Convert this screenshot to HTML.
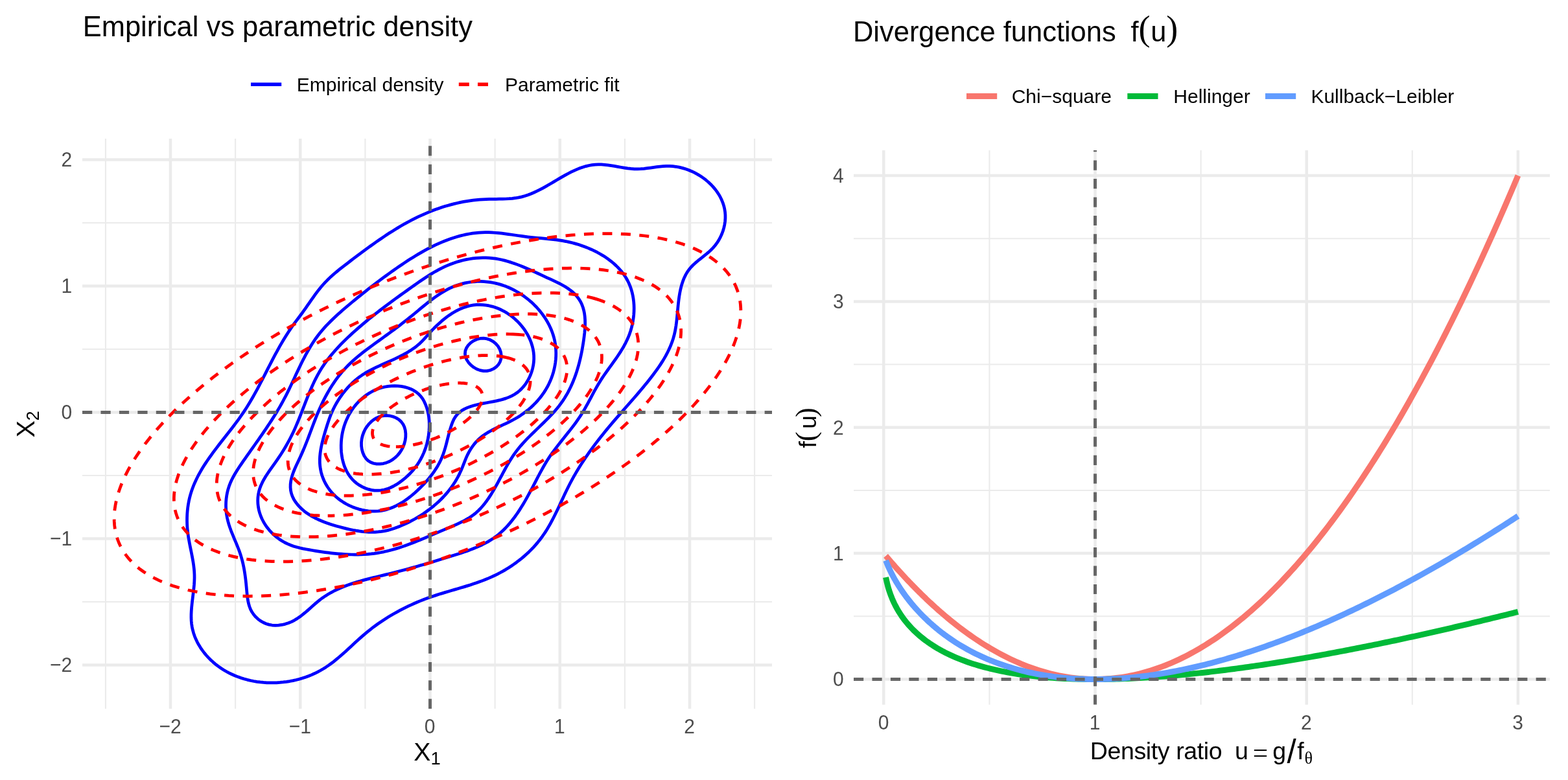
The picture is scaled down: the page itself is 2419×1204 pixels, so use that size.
<!DOCTYPE html>
<html lang="en">
<head>
<meta charset="utf-8">
<title>Empirical vs parametric density / Divergence functions</title>
<style>html,body{margin:0;padding:0;background:#fff}body{width:2419px;height:1204px;overflow:hidden}svg{display:block}</style>
</head>
<body>
<svg width="2419" height="1204" viewBox="0 0 2419 1204" role="img" aria-label="Empirical vs parametric density; Divergence functions f(u)">
<rect width="2419" height="1204" fill="#fff"/>
<defs><clipPath id="cl"><rect x="127" y="214" width="1064" height="880"/></clipPath><clipPath id="cr"><rect x="1317" y="232" width="1074" height="855.8"/></clipPath></defs>
<path d="M127 929H1191M127 734H1191M127 539H1191M127 344H1191M162.88 214V1094M363.12 214V1094M563.38 214V1094M763.62 214V1094M963.88 214V1094M1164.12 214V1094" stroke="#EBEBEB" stroke-width="2.1" fill="none"/>
<path d="M127 1026.5H1191M127 831.5H1191M127 636.5H1191M127 441.5H1191M127 246.5H1191M263 214V1094M463.25 214V1094M663.5 214V1094M863.75 214V1094M1064 214V1094" stroke="#EBEBEB" stroke-width="4.5" fill="none"/>
<g clip-path="url(#cl)" fill="none">
<path d="M465.72 483.77L468.65 479.71L471.55 475.6L474.43 471.46L477.31 467.3L480.19 463.14L483.1 459.01L486.05 454.91L489.05 450.86L492.12 446.89L495.28 443.01L498.53 439.24L501.89 435.59L505.36 432.05L508.93 428.62L512.58 425.29L516.3 422.03L520.09 418.84L523.94 415.71L527.84 412.63L531.77 409.57L535.73 406.54L539.71 403.51L543.7 400.48L547.7 397.46L551.71 394.44L555.73 391.42L559.77 388.42L563.82 385.43L567.88 382.45L571.96 379.5L576.06 376.56L580.17 373.65L584.31 370.77L588.46 367.92L592.63 365.1L596.83 362.32L601.04 359.58L605.28 356.88L609.54 354.23L613.83 351.62L618.14 349.06L622.48 346.56L626.84 344.12L631.24 341.73L635.66 339.41L640.11 337.15L644.59 334.96L649.1 332.84L653.64 330.79L658.2 328.81L662.8 326.91L667.42 325.08L672.07 323.34L676.75 321.67L681.45 320.08L686.18 318.58L690.94 317.17L695.72 315.84L700.52 314.6L705.35 313.45L710.21 312.4L715.09 311.44L719.99 310.57L724.92 309.81L729.87 309.14L734.84 308.58L739.83 308.12L744.85 307.76L749.89 307.52L754.95 307.37L760.02 307.3L765.09 307.27L770.16 307.23L775.22 307.15L780.26 307L785.27 306.74L790.24 306.33L795.17 305.73L800.04 304.92L804.85 303.85L809.59 302.52L814.28 300.97L818.92 299.21L823.52 297.26L828.07 295.15L832.58 292.9L837.06 290.53L841.52 288.07L845.95 285.54L850.37 282.96L854.77 280.36L859.17 277.75L863.57 275.16L867.97 272.62L872.38 270.14L876.8 267.76L881.25 265.48L885.71 263.34L890.21 261.36L894.74 259.56L899.3 257.96L903.91 256.59L908.58 255.47L913.29 254.62L918.06 254.06L922.9 253.83L927.81 253.91L932.77 254.27L937.78 254.85L942.83 255.59L947.91 256.44L953.01 257.35L958.13 258.26L963.24 259.11L968.36 259.86L973.45 260.43L978.53 260.79L983.57 260.88L988.57 260.69L993.55 260.28L998.5 259.72L1003.43 259.06L1008.35 258.36L1013.27 257.68L1018.18 257.08L1023.09 256.63L1028.02 256.37L1032.96 256.37L1037.91 256.68L1042.87 257.28L1047.81 258.18L1052.72 259.35L1057.58 260.8L1062.38 262.51L1067.09 264.47L1071.71 266.68L1076.21 269.12L1080.57 271.78L1084.79 274.65L1088.85 277.73L1092.72 281L1096.39 284.46L1099.85 288.09L1103.08 291.89L1106.05 295.84L1108.77 299.94L1111.2 304.18L1113.33 308.54L1115.15 313.02L1116.63 317.61L1117.77 322.3L1118.55 327.07L1118.94 331.93L1118.95 336.84L1118.58 341.78L1117.85 346.72L1116.77 351.63L1115.34 356.48L1113.57 361.24L1111.47 365.88L1109.06 370.36L1106.34 374.67L1103.31 378.77L1100 382.63L1096.42 386.25L1092.64 389.68L1088.73 392.96L1084.74 396.15L1080.74 399.3L1076.8 402.46L1072.97 405.68L1069.34 409.01L1065.95 412.51L1062.88 416.23L1060.14 420.18L1057.73 424.35L1055.62 428.71L1053.78 433.24L1052.19 437.91L1050.82 442.71L1049.66 447.61L1048.67 452.59L1047.84 457.62L1047.14 462.68L1046.54 467.75L1046.02 472.84L1045.55 477.93L1045.09 483.02L1044.62 488.09L1044.11 493.13L1043.53 498.15L1042.85 503.12L1042.05 508.05L1041.09 512.92L1039.95 517.73L1038.6 522.47L1037.06 527.14L1035.34 531.75L1033.45 536.29L1031.39 540.78L1029.19 545.2L1026.84 549.57L1024.37 553.88L1021.77 558.14L1019.07 562.35L1016.27 566.52L1013.39 570.64L1010.43 574.72L1007.41 578.76L1004.33 582.76L1001.22 586.73L998.07 590.66L994.89 594.56L991.69 598.44L988.46 602.29L985.22 606.12L981.96 609.93L978.68 613.72L975.4 617.5L972.1 621.27L968.81 625.04L965.51 628.8L962.21 632.56L958.92 636.31L955.63 640.08L952.35 643.85L949.09 647.63L945.84 651.42L942.61 655.22L939.4 659.05L936.21 662.89L933.05 666.75L929.91 670.64L926.8 674.54L923.72 678.47L920.68 682.42L917.66 686.4L914.69 690.4L911.74 694.43L908.84 698.49L905.98 702.58L903.16 706.69L900.38 710.84L897.65 715.02L894.96 719.23L892.33 723.48L889.74 727.76L887.21 732.08L884.74 736.43L882.31 740.82L879.95 745.26L877.65 749.73L875.4 754.24L873.19 758.77L871.01 763.33L868.86 767.9L866.72 772.48L864.59 777.06L862.45 781.64L860.29 786.2L858.1 790.74L855.88 795.25L853.61 799.73L851.29 804.17L848.9 808.55L846.43 812.89L843.88 817.16L841.23 821.36L838.47 825.48L835.6 829.53L832.6 833.48L829.49 837.35L826.27 841.12L822.94 844.81L819.51 848.4L815.98 851.9L812.35 855.31L808.62 858.62L804.81 861.84L800.91 864.96L796.93 867.98L792.88 870.91L788.75 873.73L784.55 876.45L780.29 879.08L775.96 881.6L771.58 884.01L767.14 886.32L762.65 888.53L758.11 890.63L753.54 892.63L748.92 894.53L744.27 896.34L739.58 898.07L734.87 899.74L730.12 901.34L725.36 902.89L720.58 904.39L715.78 905.86L710.97 907.3L706.15 908.73L701.33 910.14L696.5 911.55L691.67 912.97L686.85 914.4L682.04 915.86L677.23 917.35L672.45 918.88L667.67 920.46L662.93 922.1L658.2 923.8L653.5 925.57L648.83 927.41L644.19 929.32L639.58 931.29L634.99 933.33L630.44 935.44L625.93 937.61L621.45 939.85L617.01 942.16L612.6 944.54L608.24 946.98L603.91 949.49L599.63 952.07L595.39 954.72L591.19 957.43L587.04 960.21L582.94 963.06L578.89 965.98L574.88 968.97L570.93 972.02L567.03 975.14L563.18 978.33L559.38 981.59L555.63 984.9L551.91 988.25L548.22 991.62L544.55 995.02L540.88 998.41L537.21 1001.8L533.53 1005.17L529.83 1008.5L526.11 1011.79L522.34 1015.03L518.53 1018.19L514.67 1021.27L510.74 1024.26L506.74 1027.14L502.66 1029.9L498.48 1032.53L494.21 1035.02L489.83 1037.36L485.36 1039.54L480.81 1041.58L476.17 1043.47L471.46 1045.2L466.68 1046.78L461.84 1048.2L456.95 1049.47L452.01 1050.58L447.03 1051.54L442.02 1052.34L436.97 1052.98L431.91 1053.46L426.84 1053.78L421.75 1053.94L416.67 1053.94L411.59 1053.77L406.52 1053.45L401.47 1052.95L396.45 1052.3L391.47 1051.48L386.52 1050.49L381.61 1049.33L376.76 1048.01L371.97 1046.51L367.25 1044.85L362.59 1043.02L358.02 1041.01L353.53 1038.83L349.14 1036.48L344.84 1033.96L340.65 1031.26L336.58 1028.39L332.62 1025.34L328.79 1022.11L325.1 1018.72L321.57 1015.18L318.2 1011.48L315.01 1007.64L312.01 1003.67L309.21 999.57L306.63 995.35L304.28 991.02L302.16 986.58L300.29 982.04L298.69 977.41L297.37 972.7L296.33 967.92L295.59 963.06L295.15 958.15L294.96 953.18L295 948.17L295.22 943.12L295.6 938.03L296.09 932.93L296.66 927.8L297.28 922.67L297.91 917.53L298.52 912.39L299.07 907.27L299.52 902.17L299.84 897.09L300 892.05L299.95 887.04L299.7 882.08L299.26 877.16L298.67 872.26L297.94 867.39L297.11 862.53L296.2 857.69L295.24 852.85L294.25 848.01L293.27 843.17L292.32 838.31L291.41 833.43L290.6 828.53L289.88 823.59L289.31 818.62L288.89 813.61L288.62 808.57L288.51 803.52L288.57 798.46L288.79 793.41L289.17 788.37L289.73 783.37L290.46 778.4L291.36 773.49L292.44 768.63L293.7 763.85L295.13 759.14L296.73 754.5L298.48 749.91L300.37 745.39L302.41 740.93L304.57 736.52L306.86 732.16L309.27 727.84L311.77 723.57L314.38 719.34L317.08 715.15L319.86 710.99L322.71 706.86L325.63 702.76L328.6 698.68L331.63 694.62L334.69 690.58L337.79 686.55L340.91 682.53L344.05 678.52L347.2 674.52L350.34 670.51L353.48 666.5L356.61 662.49L359.71 658.46L362.77 654.42L365.8 650.37L368.77 646.3L371.69 642.2L374.55 638.08L377.33 633.93L380.04 629.75L382.67 625.54L385.25 621.3L387.77 617.04L390.24 612.75L392.66 608.44L395.04 604.11L397.39 599.77L399.71 595.4L402 591.02L404.28 586.62L406.55 582.22L408.8 577.8L411.06 573.37L413.33 568.93L415.6 564.49L417.89 560.05L420.2 555.6L422.54 551.15L424.91 546.7L427.31 542.27L429.75 537.85L432.22 533.45L434.74 529.08L437.3 524.74L439.91 520.44L442.57 516.18L445.29 511.97L448.06 507.81L450.9 503.7L453.8 499.66L456.76 495.68L459.75 491.72L462.74 487.76Z" stroke="#0000FF" stroke-width="4.75" stroke-linejoin="round"/>
<path d="M490.27 518.23L493.34 514.3L496.52 510.45L499.81 506.67L503.19 502.95L506.66 499.31L510.21 495.72L513.83 492.19L517.51 488.71L521.24 485.28L525.02 481.9L528.84 478.56L532.68 475.25L536.54 471.98L540.42 468.74L544.29 465.53L548.17 462.34L552.05 459.17L555.93 456.03L559.82 452.9L563.71 449.81L567.62 446.73L571.53 443.67L575.46 440.64L579.39 437.62L583.35 434.62L587.32 431.65L591.31 428.68L595.33 425.74L599.36 422.82L603.42 419.91L607.51 417.01L611.62 414.14L615.77 411.28L619.94 408.44L624.14 405.62L628.37 402.84L632.63 400.1L636.92 397.4L641.24 394.75L645.59 392.15L649.96 389.6L654.37 387.12L658.8 384.71L663.27 382.37L667.77 380.11L672.29 377.94L676.84 375.85L681.43 373.86L686.04 371.96L690.68 370.17L695.36 368.49L700.06 366.93L704.79 365.48L709.55 364.16L714.35 362.97L719.17 361.91L724.02 360.99L728.9 360.22L733.81 359.6L738.76 359.14L743.73 358.84L748.73 358.7L753.76 358.73L758.82 358.92L763.9 359.25L768.99 359.69L774.09 360.23L779.2 360.85L784.3 361.53L789.4 362.25L794.48 362.99L799.55 363.73L804.59 364.45L809.61 365.14L814.59 365.77L819.53 366.33L824.44 366.83L829.32 367.29L834.18 367.72L839.01 368.15L843.84 368.59L848.67 369.07L853.49 369.59L858.32 370.18L863.16 370.86L868.02 371.65L872.9 372.55L877.81 373.6L882.74 374.79L887.68 376.12L892.61 377.6L897.52 379.22L902.4 380.99L907.23 382.89L912.01 384.95L916.71 387.14L921.34 389.48L925.86 391.96L930.28 394.59L934.58 397.36L938.75 400.27L942.77 403.33L946.63 406.53L950.31 409.88L953.82 413.37L957.12 417L960.22 420.78L963.09 424.7L965.73 428.77L968.12 432.98L970.25 437.33L972.12 441.82L973.73 446.43L975.08 451.14L976.19 455.95L977.04 460.83L977.66 465.78L978.03 470.77L978.17 475.8L978.07 480.85L977.75 485.9L977.2 490.95L976.43 495.97L975.44 500.96L974.24 505.89L972.83 510.76L971.21 515.55L969.39 520.24L967.37 524.83L965.17 529.33L962.82 533.74L960.33 538.08L957.71 542.35L954.99 546.57L952.18 550.74L949.31 554.87L946.39 558.98L943.45 563.08L940.49 567.17L937.54 571.26L934.62 575.37L931.74 579.5L928.93 583.67L926.2 587.88L923.57 592.15L921.04 596.46L918.58 600.81L916.18 605.2L913.81 609.6L911.46 614.01L909.11 618.42L906.74 622.82L904.33 627.2L901.86 631.55L899.31 635.86L896.67 640.11L893.92 644.3L891.07 648.44L888.13 652.54L885.13 656.59L882.06 660.61L878.95 664.6L875.81 668.57L872.64 672.53L869.48 676.47L866.32 680.42L863.18 684.38L860.08 688.34L857.03 692.33L854.04 696.34L851.12 700.38L848.3 704.46L845.57 708.59L842.95 712.76L840.42 716.98L837.96 721.24L835.57 725.54L833.22 729.88L830.9 734.25L828.6 738.66L826.3 743.09L823.98 747.54L821.65 752.02L819.28 756.5L816.88 760.99L814.43 765.47L811.94 769.92L809.4 774.36L806.8 778.75L804.13 783.1L801.4 787.38L798.59 791.61L795.7 795.75L792.73 799.81L789.66 803.78L786.5 807.63L783.24 811.38L779.87 815L776.39 818.48L772.79 821.82L769.06 825.01L765.21 828.03L761.22 830.88L757.11 833.57L752.88 836.1L748.54 838.49L744.1 840.74L739.58 842.87L734.97 844.9L730.3 846.82L725.58 848.65L720.8 850.4L715.99 852.08L711.14 853.71L706.28 855.28L701.41 856.83L696.54 858.34L691.69 859.85L686.84 861.34L682.01 862.82L677.19 864.29L672.38 865.74L667.58 867.19L662.79 868.62L658 870.03L653.21 871.43L648.43 872.82L643.64 874.19L638.85 875.55L634.07 876.88L629.27 878.21L624.47 879.51L619.67 880.8L614.85 882.06L610.02 883.31L605.19 884.54L600.33 885.75L595.47 886.93L590.59 888.11L585.71 889.28L580.82 890.45L575.94 891.64L571.06 892.86L566.2 894.1L561.35 895.39L556.53 896.72L551.73 898.12L546.96 899.58L542.23 901.12L537.54 902.74L532.89 904.46L528.29 906.28L523.75 908.22L519.26 910.28L514.84 912.47L510.49 914.8L506.21 917.28L502.01 919.91L497.89 922.71L493.86 925.69L489.91 928.85L486.03 932.14L482.19 935.52L478.36 938.95L474.51 942.36L470.61 945.71L466.64 948.95L462.57 952.03L458.36 954.91L454 957.52L449.45 959.83L444.7 961.78L439.79 963.34L434.77 964.47L429.72 965.15L424.69 965.34L419.75 965.01L414.95 964.13L410.35 962.71L405.97 960.79L401.86 958.4L398.05 955.57L394.58 952.34L391.47 948.73L388.78 944.78L386.53 940.53L384.75 936L383.39 931.24L382.38 926.3L381.62 921.23L381.04 916.08L380.56 910.89L380.1 905.73L379.61 900.62L379.06 895.55L378.44 890.54L377.75 885.57L376.96 880.65L376.07 875.76L375.07 870.92L373.93 866.12L372.66 861.36L371.24 856.62L369.65 851.92L367.91 847.25L366.07 842.59L364.15 837.95L362.19 833.3L360.24 828.64L358.32 823.97L356.48 819.27L354.75 814.54L353.16 809.76L351.77 804.93L350.59 800.05L349.67 795.09L349.02 790.09L348.62 785.05L348.5 780L348.64 774.96L349.05 769.94L349.73 764.96L350.68 760.04L351.91 755.2L353.42 750.46L355.19 745.83L357.21 741.3L359.43 736.86L361.84 732.49L364.4 728.19L367.08 723.94L369.86 719.74L372.7 715.57L375.57 711.43L378.46 707.29L381.36 703.17L384.26 699.06L387.17 694.95L390.07 690.85L392.97 686.75L395.86 682.65L398.75 678.55L401.62 674.44L404.47 670.33L407.3 666.2L410.11 662.07L412.9 657.92L415.66 653.76L418.39 649.58L421.08 645.38L423.73 641.16L426.35 636.91L428.92 632.64L431.45 628.34L433.92 624L436.34 619.64L438.71 615.24L441.02 610.8L443.28 606.33L445.5 601.83L447.68 597.31L449.83 592.77L451.96 588.22L454.09 583.67L456.21 579.11L458.34 574.56L460.48 570.01L462.64 565.49L464.84 560.98L467.07 556.5L469.35 552.05L471.68 547.64L474.08 543.27L476.55 538.95L479.1 534.68L481.74 530.46L484.48 526.31L487.32 522.23Z" stroke="#0000FF" stroke-width="4.75" stroke-linejoin="round"/>
<path d="M543.75 514.32L547.48 510.96L551.24 507.64L555.03 504.34L558.85 501.08L562.7 497.85L566.57 494.64L570.47 491.46L574.39 488.31L578.33 485.18L582.29 482.08L586.27 479L590.27 475.94L594.28 472.9L598.3 469.89L602.34 466.89L606.38 463.9L610.44 460.94L614.5 457.98L618.57 455.05L622.64 452.12L626.72 449.21L630.8 446.31L634.87 443.41L638.95 440.53L643.03 437.66L647.11 434.81L651.22 432L655.34 429.23L659.5 426.52L663.69 423.87L667.93 421.29L672.22 418.8L676.57 416.41L680.99 414.11L685.47 411.94L690.04 409.88L694.7 407.96L699.45 406.19L704.29 404.57L709.21 403.1L714.19 401.8L719.23 400.68L724.29 399.73L729.38 398.96L734.47 398.39L739.56 398.01L744.61 397.83L749.63 397.85L754.59 398.1L759.51 398.54L764.37 399.18L769.19 400L773.96 400.99L778.71 402.15L783.42 403.45L788.1 404.88L792.76 406.44L797.4 408.11L802.03 409.89L806.65 411.75L811.26 413.7L815.88 415.71L820.49 417.78L825.12 419.89L829.76 422.03L834.41 424.19L839.08 426.37L843.78 428.54L848.51 430.7L853.24 432.87L857.94 435.09L862.57 437.37L867.1 439.76L871.5 442.28L875.73 444.96L879.76 447.83L883.56 450.92L887.09 454.27L890.31 457.88L893.18 461.74L895.66 465.82L897.71 470.08L899.36 474.5L900.64 479.08L901.59 483.8L902.22 488.63L902.58 493.55L902.68 498.56L902.57 503.64L902.27 508.76L901.82 513.91L901.24 519.07L900.56 524.22L899.81 529.36L898.99 534.46L898.1 539.54L897.14 544.58L896.1 549.59L894.97 554.55L893.76 559.48L892.46 564.36L891.07 569.19L889.58 573.97L887.98 578.7L886.29 583.38L884.48 587.99L882.56 592.54L880.52 597.03L878.36 601.45L876.08 605.8L873.67 610.07L871.13 614.27L868.45 618.39L865.63 622.43L862.66 626.38L859.56 630.25L856.34 634.05L853.01 637.79L849.58 641.47L846.07 645.1L842.5 648.7L838.88 652.27L835.23 655.81L831.55 659.35L827.87 662.89L824.19 666.43L820.54 669.99L816.93 673.58L813.37 677.2L809.88 680.86L806.46 684.57L803.15 688.34L799.95 692.18L796.87 696.1L793.93 700.1L791.11 704.19L788.42 708.35L785.82 712.57L783.3 716.84L780.85 721.16L778.45 725.52L776.08 729.91L773.73 734.31L771.38 738.72L769.02 743.14L766.63 747.55L764.2 751.94L761.7 756.3L759.13 760.63L756.47 764.9L753.71 769.1L750.83 773.2L747.83 777.19L744.69 781.03L741.41 784.72L737.96 788.23L734.33 791.54L730.53 794.63L726.54 797.49L722.38 800.16L718.08 802.65L713.66 804.99L709.14 807.21L704.54 809.33L699.88 811.38L695.18 813.38L690.47 815.36L685.76 817.35L681.06 819.34L676.38 821.35L671.72 823.36L667.06 825.37L662.41 827.37L657.77 829.36L653.13 831.32L648.49 833.25L643.85 835.15L639.21 837L634.56 838.81L629.9 840.56L625.23 842.25L620.54 843.87L615.84 845.41L611.13 846.88L606.39 848.26L601.63 849.54L596.85 850.72L592.04 851.8L587.2 852.76L582.33 853.6L577.42 854.32L572.48 854.9L567.51 855.37L562.51 855.71L557.49 855.94L552.44 856.06L547.39 856.08L542.32 856L537.24 855.83L532.15 855.58L527.06 855.24L521.98 854.83L516.9 854.35L511.83 853.81L506.77 853.21L501.73 852.55L496.71 851.85L491.71 851.1L486.74 850.32L481.81 849.5L476.9 848.66L472.04 847.78L467.22 846.83L462.44 845.76L457.72 844.55L453.06 843.16L448.46 841.54L443.93 839.67L439.47 837.5L435.1 835L430.83 832.2L426.7 829.11L422.74 825.75L418.98 822.14L415.46 818.32L412.21 814.3L409.26 810.11L406.62 805.76L404.3 801.28L402.32 796.69L400.68 792.01L399.39 787.26L398.46 782.46L397.89 777.63L397.7 772.8L397.89 767.97L398.47 763.18L399.45 758.45L400.84 753.78L402.6 749.2L404.69 744.68L407.06 740.22L409.67 735.82L412.45 731.47L415.37 727.15L418.38 722.87L421.42 718.61L424.44 714.37L427.41 710.14L430.28 705.92L433.07 701.69L435.76 697.46L438.37 693.21L440.89 688.94L443.33 684.66L445.7 680.34L447.99 675.99L450.21 671.6L452.35 667.16L454.44 662.68L456.46 658.14L458.42 653.55L460.34 648.92L462.22 644.25L464.08 639.56L465.91 634.84L467.74 630.11L469.57 625.38L471.41 620.64L473.27 615.91L475.15 611.19L477.07 606.5L479.04 601.83L481.06 597.2L483.15 592.61L485.31 588.07L487.55 583.59L489.89 579.16L492.33 574.81L494.87 570.54L497.53 566.34L500.3 562.22L503.17 558.18L506.14 554.21L509.21 550.3L512.36 546.47L515.59 542.69L518.9 538.97L522.28 535.31L525.73 531.7L529.23 528.13L532.79 524.62L536.4 521.15L540.06 517.72Z" stroke="#0000FF" stroke-width="4.75" stroke-linejoin="round"/>
<path d="M588.68 522.85L592.71 519.94L596.72 517.03L600.72 514.11L604.7 511.18L608.66 508.23L612.61 505.26L616.56 502.27L620.5 499.24L624.43 496.18L628.36 493.09L632.29 489.94L636.22 486.75L640.16 483.51L644.1 480.23L648.06 476.94L652.04 473.65L656.04 470.39L660.07 467.16L664.14 463.99L668.24 460.9L672.38 457.9L676.58 455.01L680.82 452.26L685.13 449.65L689.5 447.21L693.93 444.95L698.44 442.9L703.02 441.07L707.67 439.46L712.39 438.08L717.16 436.92L721.97 435.98L726.82 435.26L731.71 434.77L736.61 434.5L741.53 434.45L746.46 434.62L751.38 435.02L756.3 435.65L761.19 436.49L766.07 437.56L770.9 438.85L775.7 440.36L780.44 442.09L785.13 444.02L789.74 446.15L794.28 448.48L798.74 450.99L803.1 453.68L807.35 456.54L811.5 459.57L815.52 462.76L819.42 466.11L823.18 469.6L826.79 473.23L830.25 476.99L833.54 480.88L836.67 484.89L839.61 489.01L842.36 493.24L844.91 497.56L847.26 501.98L849.39 506.49L851.3 511.07L852.97 515.73L854.4 520.46L855.59 525.24L856.51 530.08L857.18 534.95L857.6 539.86L857.77 544.79L857.7 549.73L857.38 554.67L856.83 559.59L856.05 564.5L855.03 569.37L853.8 574.19L852.34 578.97L850.66 583.67L848.77 588.3L846.67 592.85L844.36 597.29L841.85 601.63L839.14 605.86L836.25 609.97L833.18 613.96L829.94 617.83L826.54 621.57L822.99 625.19L819.29 628.67L815.45 632.01L811.49 635.21L807.4 638.27L803.2 641.17L798.89 643.93L794.49 646.53L790 648.98L785.44 651.3L780.84 653.52L776.23 655.69L771.63 657.83L767.06 659.99L762.55 662.19L758.13 664.48L753.81 666.89L749.63 669.44L745.6 672.19L741.76 675.16L738.13 678.38L734.72 681.87L731.53 685.61L728.56 689.58L725.81 693.75L723.28 698.1L720.97 702.62L718.88 707.27L716.95 712.02L715.09 716.81L713.22 721.58L711.26 726.27L709.14 730.85L706.88 735.32L704.47 739.68L701.92 743.93L699.23 748.07L696.4 752.11L693.45 756.04L690.36 759.87L687.15 763.6L683.82 767.23L680.37 770.77L676.8 774.21L673.12 777.55L669.34 780.8L665.45 783.96L661.45 787.03L657.36 790.02L653.19 792.9L648.92 795.69L644.58 798.38L640.16 800.96L635.67 803.44L631.13 805.8L626.52 808.04L621.87 810.17L617.17 812.17L612.44 814.04L607.67 815.76L602.88 817.29L598.07 818.59L593.25 819.62L588.43 820.4L583.6 820.95L578.75 821.26L573.9 821.37L569.04 821.28L564.16 821L559.28 820.54L554.38 819.92L549.47 819.16L544.55 818.26L539.62 817.24L534.67 816.11L529.71 814.88L524.74 813.57L519.75 812.19L514.76 810.72L509.8 809.16L504.88 807.5L500.01 805.71L495.22 803.79L490.53 801.73L485.95 799.51L481.5 797.12L477.2 794.54L473.07 791.77L469.13 788.78L465.39 785.57L461.88 782.13L458.62 778.44L455.68 774.52L453.12 770.39L451.02 766.06L449.47 761.56L448.48 756.92L448.04 752.19L448.13 747.41L448.72 742.62L449.75 737.83L451.15 733.05L452.86 728.27L454.81 723.5L456.93 718.74L459.16 713.98L461.42 709.24L463.65 704.5L465.79 699.78L467.84 695.07L469.8 690.37L471.7 685.68L473.54 681L475.34 676.33L477.1 671.68L478.84 667.03L480.57 662.4L482.31 657.77L484.06 653.16L485.83 648.55L487.65 643.96L489.51 639.37L491.44 634.79L493.44 630.23L495.52 625.67L497.67 621.14L499.91 616.64L502.24 612.17L504.65 607.75L507.15 603.37L509.74 599.04L512.42 594.77L515.2 590.57L518.08 586.44L521.06 582.38L524.15 578.41L527.34 574.54L530.64 570.75L534.05 567.08L537.57 563.5L541.18 560.01L544.88 556.6L548.65 553.28L552.5 550.03L556.4 546.84L560.36 543.71L564.35 540.63L568.38 537.6L572.43 534.6L576.49 531.64L580.56 528.69L584.63 525.77Z" stroke="#0000FF" stroke-width="4.75" stroke-linejoin="round"/>
<path d="M663.02 513.62L666.4 509.95L669.93 506.31L673.6 502.7L677.39 499.16L681.31 495.7L685.34 492.37L689.48 489.17L693.72 486.14L698.05 483.31L702.48 480.69L706.98 478.31L711.56 476.2L716.2 474.38L720.9 472.88L725.66 471.73L730.46 470.93L735.28 470.47L740.12 470.35L744.97 470.56L749.79 471.09L754.59 471.94L759.35 473.09L764.05 474.53L768.68 476.26L773.23 478.28L777.67 480.56L782.01 483.11L786.21 485.91L790.28 488.94L794.18 492.2L797.91 495.67L801.46 499.34L804.79 503.2L807.91 507.22L810.8 511.4L813.43 515.72L815.8 520.18L817.89 524.75L819.69 529.42L821.17 534.18L822.33 539.02L823.15 543.92L823.61 548.87L823.7 553.85L823.4 558.86L822.73 563.85L821.68 568.81L820.28 573.69L818.54 578.47L816.47 583.1L814.09 587.56L811.39 591.81L808.41 595.82L805.15 599.56L801.62 602.99L797.84 606.07L793.81 608.79L789.57 611.13L785.13 613.15L780.52 614.89L775.76 616.38L770.89 617.68L765.92 618.81L760.88 619.84L755.81 620.79L750.72 621.72L745.64 622.66L740.59 623.66L735.61 624.76L730.72 626.01L725.96 627.44L721.37 629.12L717.01 631.09L712.93 633.4L709.16 636.11L705.77 639.26L702.79 642.91L700.26 647.09L698.14 651.7L696.33 656.59L694.75 661.63L693.31 666.67L691.98 671.69L690.7 676.68L689.44 681.64L688.17 686.54L686.83 691.38L685.39 696.15L683.81 700.84L682.04 705.45L680.07 709.95L677.9 714.37L675.54 718.69L672.99 722.92L670.28 727.06L667.41 731.11L664.39 735.08L661.23 738.97L657.95 742.78L654.54 746.52L651.04 750.18L647.44 753.76L643.75 757.28L639.98 760.7L636.13 764.02L632.2 767.22L628.18 770.27L624.08 773.16L619.89 775.88L615.62 778.39L611.27 780.69L606.83 782.76L602.31 784.57L597.7 786.11L593.01 787.36L588.24 788.31L583.38 788.93L578.45 789.21L573.45 789.16L568.42 788.78L563.39 788.1L558.36 787.11L553.38 785.83L548.46 784.27L543.62 782.44L538.89 780.34L534.3 777.99L529.86 775.39L525.61 772.57L521.56 769.51L517.74 766.24L514.17 762.77L510.86 759.11L507.81 755.26L505.03 751.25L502.53 747.08L500.32 742.76L498.39 738.31L496.76 733.74L495.44 729.06L494.43 724.28L493.73 719.42L493.35 714.48L493.3 709.48L493.54 704.44L494.05 699.36L494.79 694.27L495.72 689.18L496.82 684.1L498.06 679.05L499.4 674.05L500.81 669.11L502.26 664.24L503.72 659.46L505.19 654.78L506.7 650.17L508.28 645.61L509.99 641.1L511.85 636.62L513.89 632.16L516.11 627.72L518.5 623.33L521.06 618.99L523.79 614.72L526.67 610.53L529.71 606.44L532.9 602.46L536.22 598.61L539.69 594.89L543.29 591.32L547.01 587.92L550.85 584.7L554.81 581.67L558.88 578.83L563.05 576.17L567.31 573.67L571.64 571.3L576.05 569.04L580.51 566.87L585.02 564.78L589.56 562.73L594.13 560.7L598.71 558.68L603.3 556.64L607.88 554.57L612.45 552.43L616.99 550.22L621.49 547.89L625.95 545.45L630.33 542.87L634.6 540.15L638.75 537.29L642.72 534.29L646.49 531.14L650.02 527.84L653.36 524.41L656.58 520.87L659.77 517.27Z" stroke="#0000FF" stroke-width="4.75" stroke-linejoin="round"/>
<path d="M608.75 595.69L613.95 595.88L619.11 596.44L624.16 597.39L629.06 598.73L633.75 600.48L638.16 602.65L642.25 605.25L645.96 608.29L649.23 611.78L652.06 615.69L654.48 619.94L656.53 624.45L658.26 629.13L659.66 633.96L660.76 638.92L661.56 643.98L662.07 649.12L662.31 654.3L662.28 659.52L661.99 664.73L661.46 669.93L660.69 675.08L659.69 680.16L658.48 685.14L657.05 690.01L655.43 694.75L653.6 699.36L651.57 703.84L649.34 708.2L646.9 712.44L644.27 716.55L641.43 720.54L638.39 724.4L635.14 728.15L631.7 731.77L628.05 735.28L624.2 738.67L620.16 741.94L615.92 745.04L611.53 747.92L606.99 750.51L602.32 752.76L597.55 754.61L592.69 756.01L587.76 756.9L582.79 757.24L577.82 757.04L572.89 756.33L568.04 755.14L563.31 753.49L558.75 751.41L554.39 748.93L550.28 746.08L546.46 742.87L542.98 739.34L539.85 735.52L537.07 731.43L534.63 727.1L532.52 722.56L530.73 717.84L529.26 712.97L528.09 707.98L527.21 702.9L526.61 697.75L526.29 692.57L526.23 687.38L526.43 682.22L526.87 677.11L527.56 672.04L528.5 667.05L529.67 662.12L531.08 657.29L532.73 652.54L534.61 647.9L536.72 643.38L539.06 638.98L541.62 634.71L544.41 630.58L547.42 626.61L550.65 622.8L554.09 619.16L557.74 615.71L561.59 612.47L565.63 609.46L569.85 606.7L574.24 604.21L578.79 602L583.49 600.1L588.34 598.52L593.32 597.28L598.4 596.4L603.55 595.87Z" stroke="#0000FF" stroke-width="4.75" stroke-linejoin="round"/>
<path d="M595.89 641.37L600.98 641.76L606.02 642.94L610.8 644.87L615.16 647.52L618.89 650.86L621.82 654.82L623.93 659.32L625.26 664.22L625.85 669.36L625.77 674.6L625.05 679.82L623.73 684.92L621.87 689.83L619.48 694.5L616.6 698.87L613.29 702.88L609.56 706.48L605.45 709.6L601.01 712.19L596.26 714.18L591.27 715.53L586.16 716.18L581.09 716.1L576.22 715.23L571.73 713.53L567.76 710.97L564.42 707.56L561.73 703.44L559.69 698.77L558.3 693.7L557.57 688.38L557.5 682.97L558.09 677.61L559.3 672.38L561.1 667.35L563.42 662.58L566.24 658.14L569.5 654.08L573.16 650.48L577.18 647.38L581.5 644.86L586.09 642.97L590.9 641.79Z" stroke="#0000FF" stroke-width="4.75" stroke-linejoin="round"/>
<path d="M745.98 522.15L751.18 522.88L756.13 524.56L760.69 527.1L764.75 530.38L768.17 534.3L770.81 538.74L772.55 543.61L773.27 548.73L772.91 553.83L771.42 558.63L768.83 562.91L765.32 566.54L761.08 569.43L756.3 571.47L751.19 572.56L745.92 572.61L740.68 571.61L735.61 569.71L730.87 567.02L726.61 563.67L722.99 559.8L720.15 555.54L718.24 551.01L717.43 546.35L717.86 541.68L719.57 537.14L722.4 532.91L726.13 529.16L730.55 526.06L735.48 523.78L740.69 522.45Z" stroke="#0000FF" stroke-width="4.75" stroke-linejoin="round"/>
<path d="M383.02 920.26L393.49 920.16L404.15 919.87L414.98 919.4L425.97 918.72L437.13 917.86L448.44 916.81L459.9 915.57L471.49 914.14L483.21 912.53L495.05 910.72L507.01 908.73L519.07 906.56L531.22 904.21L543.47 901.67L555.79 898.96L568.18 896.06L580.64 893L593.15 889.76L605.71 886.34L618.3 882.76L630.92 879.02L643.56 875.11L656.21 871.04L668.87 866.81L681.51 862.43L694.15 857.89L706.75 853.21L719.33 848.38L731.86 843.4L744.35 838.29L756.78 833.04L769.14 827.66L781.42 822.15L793.63 816.52L805.74 810.77L817.75 804.9L829.65 798.91L841.43 792.82L853.09 786.63L864.62 780.33L876.01 773.94L887.25 767.45L898.33 760.88L909.25 754.23L919.99 747.5L930.56 740.69L940.95 733.82L951.14 726.88L961.13 719.88L970.91 712.83L980.48 705.73L989.83 698.59L998.96 691.4L1007.85 684.18L1016.5 676.93L1024.91 669.65L1033.07 662.36L1040.97 655.05L1048.61 647.73L1055.98 640.4L1063.08 633.07L1069.91 625.75L1076.45 618.44L1082.71 611.15L1088.68 603.87L1094.35 596.62L1099.73 589.4L1104.8 582.21L1109.57 575.07L1114.03 567.97L1118.18 560.92L1122.01 553.92L1125.53 546.98L1128.73 540.11L1131.61 533.3L1134.16 526.57L1136.39 519.92L1138.29 513.35L1139.86 506.86L1141.1 500.47L1142.02 494.17L1142.6 487.98L1142.85 481.89L1142.77 475.9L1142.36 470.03L1141.62 464.28L1140.55 458.65L1139.15 453.14L1137.42 447.76L1135.36 442.51L1132.97 437.4L1130.27 432.42L1127.23 427.59L1123.88 422.91L1120.21 418.37L1116.23 413.99L1111.93 409.76L1107.32 405.69L1102.4 401.78L1097.18 398.04L1091.66 394.46L1085.85 391.04L1079.74 387.8L1073.34 384.74L1066.66 381.84L1059.71 379.13L1052.47 376.59L1044.97 374.24L1037.21 372.07L1029.18 370.08L1020.9 368.27L1012.38 366.66L1003.61 365.23L994.6 363.99L985.37 362.94L975.91 362.08L966.24 361.4L956.36 360.93L946.27 360.64L935.98 360.54L925.51 360.64L914.85 360.93L904.02 361.4L893.03 362.08L881.87 362.94L870.56 363.99L859.1 365.23L847.51 366.66L835.79 368.27L823.95 370.08L811.99 372.07L799.93 374.24L787.78 376.59L775.53 379.13L763.21 381.84L750.82 384.74L738.36 387.8L725.85 391.04L713.29 394.46L700.7 398.04L688.08 401.78L675.44 405.69L662.79 409.76L650.13 413.99L637.49 418.37L624.85 422.91L612.25 427.59L599.67 432.42L587.14 437.4L574.65 442.51L562.22 447.76L549.86 453.14L537.58 458.65L525.37 464.28L513.26 470.03L501.25 475.9L489.35 481.89L477.57 487.98L465.91 494.17L454.38 500.47L442.99 506.86L431.75 513.35L420.67 519.92L409.75 526.57L399.01 533.3L388.44 540.11L378.05 546.98L367.86 553.92L357.87 560.92L348.09 567.97L338.52 575.07L329.17 582.21L320.04 589.4L311.15 596.62L302.5 603.87L294.09 611.15L285.93 618.44L278.03 625.75L270.39 633.07L263.02 640.4L255.92 647.73L249.09 655.05L242.55 662.36L236.29 669.65L230.32 676.93L224.65 684.18L219.27 691.4L214.2 698.59L209.43 705.73L204.97 712.83L200.82 719.88L196.99 726.88L193.47 733.82L190.27 740.69L187.39 747.5L184.84 754.23L182.61 760.88L180.71 767.45L179.14 773.94L177.9 780.33L176.98 786.63L176.4 792.82L176.15 798.91L176.23 804.9L176.64 810.77L177.38 816.52L178.45 822.15L179.85 827.66L181.58 833.04L183.64 838.29L186.03 843.4L188.73 848.38L191.77 853.21L195.12 857.89L198.79 862.43L202.77 866.81L207.07 871.04L211.68 875.11L216.6 879.02L221.82 882.76L227.34 886.34L233.15 889.76L239.26 893L245.66 896.06L252.34 898.96L259.29 901.67L266.53 904.21L274.03 906.56L281.79 908.73L289.82 910.72L298.1 912.53L306.62 914.14L315.39 915.57L324.4 916.81L333.63 917.86L343.09 918.72L352.76 919.4L362.64 919.87L372.73 920.16Z" stroke="#FF0000" stroke-width="4.75" stroke-dasharray="15.02 13.47" stroke-dashoffset="8.41"/>
<path d="M435.77 866.86L444.24 866.78L452.87 866.55L461.63 866.16L470.53 865.62L479.56 864.92L488.71 864.07L497.98 863.07L507.36 861.91L516.85 860.6L526.43 859.15L536.1 857.54L545.86 855.78L555.7 853.87L565.61 851.82L575.58 849.62L585.61 847.28L595.69 844.8L605.81 842.18L615.97 839.42L626.16 836.52L636.37 833.49L646.6 830.33L656.84 827.03L667.08 823.61L677.31 820.06L687.53 816.39L697.74 812.6L707.91 808.69L718.06 804.67L728.16 800.53L738.22 796.29L748.22 791.93L758.16 787.48L768.04 782.92L777.83 778.26L787.55 773.51L797.18 768.67L806.72 763.74L816.16 758.73L825.48 753.63L834.7 748.46L843.79 743.21L852.76 737.89L861.6 732.51L870.29 727.06L878.85 721.56L887.25 715.99L895.49 710.38L903.58 704.72L911.49 699.01L919.24 693.27L926.81 687.48L934.19 681.67L941.38 675.83L948.39 669.96L955.19 664.07L961.79 658.17L968.18 652.25L974.37 646.33L980.33 640.4L986.08 634.47L991.6 628.55L996.9 622.63L1001.96 616.73L1006.79 610.84L1011.38 604.97L1015.73 599.13L1019.84 593.32L1023.7 587.53L1027.31 581.79L1030.66 576.08L1033.77 570.42L1036.61 564.81L1039.2 559.24L1041.53 553.74L1043.6 548.29L1045.4 542.91L1046.94 537.59L1048.21 532.34L1049.22 527.17L1049.95 522.07L1050.43 517.06L1050.63 512.13L1050.57 507.29L1050.23 502.54L1049.63 497.88L1048.77 493.32L1047.63 488.87L1046.23 484.51L1044.57 480.27L1042.64 476.13L1040.44 472.11L1037.99 468.2L1035.28 464.41L1032.31 460.74L1029.08 457.19L1025.6 453.77L1021.88 450.47L1017.9 447.31L1013.67 444.28L1009.21 441.38L1004.5 438.62L999.56 436L994.38 433.52L988.98 431.18L983.35 428.98L977.49 426.93L971.42 425.02L965.14 423.26L958.65 421.65L951.95 420.2L945.05 418.89L937.95 417.73L930.67 416.73L923.19 415.88L915.54 415.18L907.71 414.64L899.72 414.25L891.55 414.02L883.23 413.94L874.76 414.02L866.13 414.25L857.37 414.64L848.47 415.18L839.44 415.88L830.29 416.73L821.02 417.73L811.64 418.89L802.15 420.2L792.57 421.65L782.9 423.26L773.14 425.02L763.3 426.93L753.39 428.98L743.42 431.18L733.39 433.52L723.31 436L713.19 438.62L703.03 441.38L692.84 444.28L682.63 447.31L672.4 450.47L662.16 453.77L651.92 457.19L641.69 460.74L631.47 464.41L621.26 468.2L611.09 472.11L600.94 476.13L590.84 480.27L580.78 484.51L570.78 488.87L560.84 493.32L550.96 497.88L541.17 502.54L531.45 507.29L521.82 512.13L512.28 517.06L502.84 522.07L493.52 527.17L484.3 532.34L475.21 537.59L466.24 542.91L457.4 548.29L448.71 553.74L440.15 559.24L431.75 564.81L423.51 570.42L415.42 576.08L407.51 581.79L399.76 587.53L392.19 593.32L384.81 599.13L377.62 604.97L370.61 610.84L363.81 616.73L357.21 622.63L350.82 628.55L344.63 634.47L338.67 640.4L332.92 646.33L327.4 652.25L322.1 658.17L317.04 664.07L312.21 669.96L307.62 675.83L303.27 681.67L299.16 687.48L295.3 693.27L291.69 699.01L288.34 704.72L285.23 710.38L282.39 715.99L279.8 721.56L277.47 727.06L275.4 732.51L273.6 737.89L272.06 743.21L270.79 748.46L269.78 753.63L269.05 758.73L268.57 763.74L268.37 768.67L268.43 773.51L268.77 778.26L269.37 782.92L270.23 787.48L271.37 791.93L272.77 796.29L274.43 800.53L276.36 804.67L278.56 808.69L281.01 812.6L283.72 816.39L286.69 820.06L289.92 823.61L293.4 827.03L297.12 830.33L301.1 833.49L305.33 836.52L309.79 839.42L314.5 842.18L319.44 844.8L324.62 847.28L330.02 849.62L335.65 851.82L341.51 853.87L347.58 855.78L353.86 857.54L360.35 859.15L367.05 860.6L373.95 861.91L381.05 863.07L388.33 864.07L395.81 864.92L403.46 865.62L411.29 866.16L419.28 866.55L427.45 866.78Z" stroke="#FF0000" stroke-width="4.75" stroke-dasharray="15.02 13.46" stroke-dashoffset="27.21"/>
<path d="M920.1 461.64L914.91 460.15L909.55 458.78L904.02 457.54L898.32 456.42L892.46 455.43L886.44 454.57L880.26 453.83L873.93 453.22L867.45 452.74L860.83 452.39L854.08 452.16L847.19 452.07L840.17 452.1L833.02 452.27L825.76 452.56L818.39 452.98L810.9 453.53L803.31 454.21L795.63 455.01L787.85 455.95L779.98 457L772.03 458.19L764 459.5L755.9 460.93L747.74 462.49L739.51 464.17L731.23 465.97L722.9 467.88L714.53 469.92L706.11 472.07L697.67 474.34L689.2 476.73L680.71 479.22L672.21 481.83L663.7 484.54L655.18 487.36L646.67 490.29L638.16 493.32L629.67 496.45L621.2 499.67L612.76 503L604.35 506.42L595.98 509.93L587.65 513.53L579.37 517.22L571.14 520.99L562.98 524.84L554.88 528.77L546.85 532.78L538.9 536.86L531.04 541.02L523.26 545.24L515.57 549.53L507.99 553.88L500.5 558.29L493.13 562.75L485.87 567.27L478.73 571.84L471.71 576.45L464.82 581.11L458.07 585.81L451.45 590.55L444.98 595.32L438.65 600.12L432.47 604.95L426.45 609.8L420.59 614.68L414.89 619.57L409.37 624.48L404.01 629.4L398.82 634.32L393.82 639.25L389 644.18L384.36 649.11L379.91 654.03L375.66 658.94L371.6 663.84L367.73 668.73L364.07 673.59L360.6 678.43L357.35 683.25L354.3 688.04L351.46 692.79L348.83 697.51L346.41 702.18L344.21 706.82L342.22 711.41L340.45 715.95L338.9 720.44L337.57 724.88L336.46 729.26L335.57 733.57L334.91 737.82L334.46 742.01L334.24 746.13L334.24 750.17L334.47 754.14L334.91 758.03L335.58 761.84L336.48 765.57L337.59 769.21L338.92 772.76L340.48 776.22L342.25 779.59L344.24 782.86L346.44 786.04L348.86 789.11L351.5 792.09L354.34 794.96L357.39 797.72L360.65 800.38L364.12 802.93L367.79 805.36L371.65 807.68L375.72 809.89L379.98 811.98L384.43 813.96L389.07 815.81L393.89 817.55L398.9 819.16L404.09 820.65L409.45 822.02L414.98 823.26L420.68 824.38L426.54 825.37L432.56 826.23L438.74 826.97L445.07 827.58L451.55 828.06L458.17 828.41L464.92 828.64L471.81 828.73L478.83 828.7L485.98 828.53L493.24 828.24L500.61 827.82L508.1 827.27L515.69 826.59L523.37 825.79L531.15 824.85L539.02 823.8L546.97 822.61L555 821.3L563.1 819.87L571.26 818.31L579.49 816.63L587.77 814.83L596.1 812.92L604.47 810.88L612.89 808.73L621.33 806.46L629.8 804.07L638.29 801.58L646.79 798.97L655.3 796.26L663.82 793.44L672.33 790.51L680.84 787.48L689.33 784.35L697.8 781.13L706.24 777.8L714.65 774.38L723.02 770.87L731.35 767.27L739.63 763.58L747.86 759.81L756.02 755.96L764.12 752.03L772.15 748.02L780.1 743.94L787.96 739.78L795.74 735.56L803.43 731.27L811.01 726.92L818.5 722.51L825.87 718.05L833.13 713.53L840.27 708.96L847.29 704.35L854.18 699.69L860.93 694.99L867.55 690.25L874.02 685.48L880.35 680.68L886.53 675.85L892.55 671L898.41 666.12L904.11 661.23L909.63 656.32L914.99 651.4L920.18 646.48L925.18 641.55L930 636.62L934.64 631.69L939.09 626.77L943.34 621.86L947.4 616.96L951.27 612.07L954.93 607.21L958.4 602.37L961.65 597.55L964.7 592.76L967.54 588.01L970.17 583.29L972.59 578.62L974.79 573.98L976.78 569.39L978.55 564.85L980.1 560.36L981.43 555.92L982.54 551.54L983.43 547.23L984.09 542.98L984.54 538.79L984.76 534.67L984.76 530.63L984.53 526.66L984.09 522.77L983.42 518.96L982.52 515.23L981.41 511.59L980.08 508.04L978.52 504.58L976.75 501.21L974.76 497.94L972.56 494.76L970.14 491.69L967.5 488.71L964.66 485.84L961.61 483.08L958.35 480.42L954.88 477.87L951.21 475.44L947.35 473.12L943.28 470.91L939.02 468.82L934.57 466.84L929.93 464.99L925.11 463.25Z" stroke="#FF0000" stroke-width="4.75" stroke-dasharray="15.03 13.48" stroke-dashoffset="0"/>
<path d="M505.66 796.12L511.48 796.07L517.41 795.91L523.44 795.64L529.56 795.27L535.77 794.79L542.06 794.2L548.44 793.51L554.89 792.72L561.41 791.82L568 790.82L574.65 789.71L581.36 788.5L588.12 787.19L594.94 785.78L601.79 784.27L608.69 782.66L615.62 780.95L622.58 779.15L629.57 777.25L636.57 775.26L643.6 773.17L650.63 771L657.67 768.73L664.71 766.38L671.75 763.94L678.78 761.42L685.79 758.81L692.79 756.12L699.77 753.36L706.71 750.51L713.63 747.59L720.51 744.6L727.34 741.53L734.13 738.4L740.87 735.2L747.55 731.93L754.18 728.6L760.73 725.21L767.22 721.76L773.64 718.26L779.97 714.7L786.22 711.1L792.39 707.44L798.47 703.74L804.45 699.99L810.33 696.21L816.11 692.38L821.78 688.52L827.33 684.63L832.78 680.7L838.1 676.75L843.31 672.78L848.38 668.78L853.33 664.76L858.15 660.73L862.82 656.68L867.36 652.62L871.76 648.55L876.01 644.48L880.11 640.4L884.07 636.32L887.86 632.25L891.5 628.18L894.99 624.12L898.31 620.07L901.46 616.04L904.46 612.02L907.28 608.02L909.93 604.05L912.41 600.1L914.72 596.17L916.86 592.28L918.81 588.42L920.59 584.59L922.19 580.81L923.61 577.06L924.85 573.36L925.91 569.7L926.79 566.1L927.48 562.54L927.99 559.04L928.31 555.59L928.45 552.2L928.41 548.87L928.18 545.6L927.77 542.4L927.17 539.27L926.39 536.2L925.43 533.21L924.28 530.29L922.96 527.44L921.45 524.68L919.76 521.99L917.9 519.38L915.85 516.86L913.64 514.42L911.24 512.07L908.68 509.8L905.94 507.63L903.04 505.54L899.97 503.55L896.73 501.65L893.33 499.85L889.78 498.14L886.06 496.53L882.19 495.02L878.16 493.61L873.99 492.3L869.67 491.09L865.2 489.98L860.59 488.98L855.85 488.08L850.97 487.29L845.96 486.6L840.82 486.01L835.56 485.53L830.18 485.16L824.68 484.89L819.07 484.73L813.34 484.68L807.52 484.73L801.59 484.89L795.56 485.16L789.44 485.53L783.23 486.01L776.94 486.6L770.56 487.29L764.11 488.08L757.59 488.98L751 489.98L744.35 491.09L737.64 492.3L730.88 493.61L724.06 495.02L717.21 496.53L710.31 498.14L703.38 499.85L696.42 501.65L689.43 503.55L682.43 505.54L675.4 507.63L668.37 509.8L661.33 512.07L654.29 514.42L647.25 516.86L640.22 519.38L633.21 521.99L626.21 524.68L619.23 527.44L612.29 530.29L605.37 533.21L598.49 536.2L591.66 539.27L584.87 542.4L578.13 545.6L571.45 548.87L564.82 552.2L558.27 555.59L551.78 559.04L545.36 562.54L539.03 566.1L532.78 569.7L526.61 573.36L520.53 577.06L514.55 580.81L508.67 584.59L502.89 588.42L497.22 592.28L491.67 596.17L486.22 600.1L480.9 604.05L475.69 608.02L470.62 612.02L465.67 616.04L460.85 620.07L456.18 624.12L451.64 628.18L447.24 632.25L442.99 636.32L438.89 640.4L434.93 644.48L431.14 648.55L427.5 652.62L424.01 656.68L420.69 660.73L417.54 664.76L414.54 668.78L411.72 672.78L409.07 676.75L406.59 680.7L404.28 684.63L402.14 688.52L400.19 692.38L398.41 696.21L396.81 699.99L395.39 703.74L394.15 707.44L393.09 711.1L392.21 714.7L391.52 718.26L391.01 721.76L390.69 725.21L390.55 728.6L390.59 731.93L390.82 735.2L391.23 738.4L391.83 741.53L392.61 744.6L393.57 747.59L394.72 750.51L396.04 753.36L397.55 756.12L399.24 758.81L401.1 761.42L403.15 763.94L405.36 766.38L407.76 768.73L410.32 771L413.06 773.17L415.96 775.26L419.03 777.25L422.27 779.15L425.67 780.95L429.22 782.66L432.94 784.27L436.81 785.78L440.84 787.19L445.01 788.5L449.33 789.71L453.8 790.82L458.41 791.82L463.15 792.72L468.03 793.51L473.04 794.2L478.18 794.79L483.44 795.27L488.82 795.64L494.32 795.91L499.93 796.07Z" stroke="#FF0000" stroke-width="4.75" stroke-dasharray="15 13.45" stroke-dashoffset="4.36"/>
<path d="M795.7 516.08L791.29 515.87L786.78 515.75L782.19 515.72L777.52 515.77L772.76 515.91L767.93 516.13L763.02 516.44L758.04 516.83L753 517.31L747.89 517.87L742.72 518.51L737.49 519.24L732.21 520.06L726.88 520.95L721.5 521.93L716.08 522.98L710.62 524.12L705.13 525.34L699.6 526.64L694.05 528.01L688.47 529.46L682.88 530.99L677.27 532.59L671.64 534.27L666.01 536.02L660.37 537.84L654.74 539.73L649.1 541.69L643.47 543.72L637.86 545.81L632.26 547.97L626.67 550.2L621.11 552.48L615.58 554.82L610.08 557.23L604.61 559.69L599.18 562.2L593.78 564.77L588.44 567.39L583.14 570.06L577.9 572.78L572.71 575.55L567.58 578.36L562.51 581.21L557.51 584.1L552.58 587.03L547.73 590L542.95 593L538.25 596.04L533.63 599.1L529.1 602.2L524.66 605.32L520.31 608.46L516.05 611.63L511.9 614.81L507.84 618.02L503.89 621.23L500.05 624.47L496.32 627.71L492.69 630.96L489.19 634.22L485.79 637.48L482.52 640.74L479.37 644.01L476.34 647.27L473.44 650.52L470.67 653.77L468.02 657.01L465.51 660.24L463.13 663.46L460.88 666.66L458.77 669.84L456.8 673L454.96 676.14L453.27 679.25L451.72 682.34L450.31 685.4L449.04 688.43L447.92 691.43L446.94 694.39L446.11 697.31L445.42 700.19L444.89 703.04L444.49 705.84L444.25 708.59L444.15 711.3L444.2 713.96L444.4 716.57L444.75 719.13L445.24 721.63L445.88 724.08L446.67 726.47L447.6 728.81L448.68 731.08L449.9 733.29L451.27 735.43L452.77 737.51L454.42 739.53L456.21 741.47L458.14 743.35L460.21 745.15L462.42 746.89L464.76 748.55L467.23 750.14L469.83 751.65L472.57 753.08L475.43 754.44L478.42 755.72L481.53 756.92L484.77 758.04L488.12 759.09L491.6 760.04L495.18 760.92L498.88 761.72L502.69 762.43L506.61 763.06L510.63 763.6L514.76 764.06L518.98 764.43L523.3 764.72L527.71 764.93L532.22 765.05L536.81 765.08L541.48 765.03L546.24 764.89L551.07 764.67L555.98 764.36L560.96 763.97L566 763.49L571.11 762.93L576.28 762.29L581.51 761.56L586.79 760.74L592.12 759.85L597.5 758.87L602.92 757.82L608.38 756.68L613.87 755.46L619.4 754.16L624.95 752.79L630.53 751.34L636.12 749.81L641.73 748.21L647.36 746.53L652.99 744.78L658.63 742.96L664.26 741.07L669.9 739.11L675.53 737.08L681.14 734.99L686.74 732.83L692.33 730.6L697.89 728.32L703.42 725.98L708.92 723.57L714.39 721.11L719.82 718.6L725.22 716.03L730.56 713.41L735.86 710.74L741.1 708.02L746.29 705.25L751.42 702.44L756.49 699.59L761.49 696.7L766.42 693.77L771.27 690.8L776.05 687.8L780.75 684.76L785.37 681.7L789.9 678.6L794.34 675.48L798.69 672.34L802.95 669.17L807.1 665.99L811.16 662.78L815.11 659.57L818.95 656.33L822.68 653.09L826.31 649.84L829.81 646.58L833.21 643.32L836.48 640.06L839.63 636.79L842.66 633.53L845.56 630.28L848.33 627.03L850.98 623.79L853.49 620.56L855.87 617.34L858.12 614.14L860.23 610.96L862.2 607.8L864.04 604.66L865.73 601.55L867.28 598.46L868.69 595.4L869.96 592.37L871.08 589.37L872.06 586.41L872.89 583.49L873.58 580.61L874.11 577.76L874.51 574.96L874.75 572.21L874.85 569.5L874.8 566.84L874.6 564.23L874.25 561.67L873.76 559.17L873.12 556.72L872.33 554.33L871.4 551.99L870.32 549.72L869.1 547.51L867.73 545.37L866.23 543.29L864.58 541.27L862.79 539.33L860.86 537.45L858.79 535.65L856.58 533.91L854.24 532.25L851.77 530.66L849.17 529.15L846.43 527.72L843.57 526.36L840.58 525.08L837.47 523.88L834.23 522.76L830.88 521.71L827.4 520.76L823.82 519.88L820.12 519.08L816.31 518.37L812.39 517.74L808.37 517.2L804.24 516.74L800.02 516.37Z" stroke="#FF0000" stroke-width="4.75" stroke-dasharray="15 13.45" stroke-dashoffset="0"/>
<path d="M780.8 551.69L778.08 551.1L775.28 550.57L772.41 550.1L769.45 549.69L766.42 549.35L763.32 549.06L760.14 548.84L756.9 548.69L753.59 548.59L750.21 548.56L746.78 548.59L743.28 548.69L739.72 548.85L736.11 549.07L732.45 549.35L728.74 549.69L724.98 550.1L721.18 550.57L717.33 551.1L713.44 551.69L709.52 552.35L705.56 553.06L701.57 553.83L697.56 554.67L693.51 555.56L689.44 556.51L685.36 557.51L681.25 558.58L677.13 559.7L673 560.87L668.86 562.1L664.71 563.38L660.56 564.72L656.4 566.11L652.25 567.55L648.11 569.04L643.97 570.57L639.84 572.16L635.73 573.79L631.63 575.47L627.56 577.19L623.5 578.96L619.47 580.77L615.46 582.61L611.49 584.5L607.55 586.43L603.64 588.39L599.78 590.39L595.95 592.43L592.17 594.49L588.43 596.59L584.74 598.72L581.11 600.87L577.52 603.06L574 605.27L570.53 607.5L567.12 609.76L563.78 612.03L560.5 614.33L557.29 616.64L554.15 618.97L551.08 621.32L548.09 623.68L545.17 626.05L542.33 628.43L539.57 630.81L536.9 633.21L534.3 635.61L531.8 638.01L529.38 640.41L527.05 642.82L524.81 645.22L522.66 647.62L520.61 650.01L518.65 652.4L516.79 654.78L515.03 657.15L513.36 659.51L511.8 661.85L510.33 664.18L508.97 666.5L507.71 668.79L506.56 671.07L505.51 673.32L504.57 675.56L503.73 677.77L503 679.95L502.38 682.11L501.86 684.23L501.45 686.33L501.16 688.4L500.96 690.43L500.88 692.43L500.91 694.39L501.04 696.32L501.29 698.21L501.64 700.05L502.1 701.86L502.67 703.63L503.35 705.35L504.13 707.03L505.02 708.66L506.01 710.24L507.11 711.78L508.32 713.27L509.63 714.71L511.04 716.09L512.55 717.43L514.17 718.71L515.88 719.94L517.69 721.12L519.6 722.23L521.6 723.3L523.7 724.3L525.9 725.25L528.18 726.14L530.55 726.98L533.02 727.75L535.57 728.46L538.2 729.11L540.92 729.7L543.72 730.23L546.59 730.7L549.55 731.11L552.58 731.45L555.68 731.74L558.86 731.96L562.1 732.11L565.41 732.21L568.79 732.24L572.22 732.21L575.72 732.11L579.28 731.95L582.89 731.73L586.55 731.45L590.26 731.11L594.02 730.7L597.82 730.23L601.67 729.7L605.56 729.11L609.48 728.45L613.44 727.74L617.43 726.97L621.44 726.13L625.49 725.24L629.56 724.29L633.64 723.29L637.75 722.22L641.87 721.1L646 719.93L650.14 718.7L654.29 717.42L658.44 716.08L662.6 714.69L666.75 713.25L670.89 711.76L675.03 710.23L679.16 708.64L683.27 707.01L687.37 705.33L691.44 703.61L695.5 701.84L699.53 700.03L703.54 698.19L707.51 696.3L711.45 694.37L715.36 692.41L719.22 690.41L723.05 688.37L726.83 686.31L730.57 684.21L734.26 682.08L737.89 679.93L741.48 677.74L745 675.53L748.47 673.3L751.88 671.04L755.22 668.77L758.5 666.47L761.71 664.16L764.85 661.83L767.92 659.48L770.91 657.12L773.83 654.75L776.67 652.37L779.43 649.99L782.1 647.59L784.7 645.19L787.2 642.79L789.62 640.39L791.95 637.98L794.19 635.58L796.34 633.18L798.39 630.79L800.35 628.4L802.21 626.02L803.97 623.65L805.64 621.29L807.2 618.95L808.67 616.62L810.03 614.3L811.29 612.01L812.44 609.73L813.49 607.48L814.43 605.24L815.27 603.03L816 600.85L816.62 598.69L817.14 596.57L817.55 594.47L817.84 592.4L818.04 590.37L818.12 588.37L818.09 586.41L817.96 584.48L817.71 582.59L817.36 580.75L816.9 578.94L816.33 577.17L815.65 575.45L814.87 573.77L813.98 572.14L812.99 570.56L811.89 569.02L810.68 567.53L809.37 566.09L807.96 564.71L806.45 563.37L804.83 562.09L803.12 560.86L801.31 559.68L799.4 558.57L797.4 557.5L795.3 556.5L793.1 555.55L790.82 554.66L788.45 553.82L785.98 553.05L783.43 552.34Z" stroke="#FF0000" stroke-width="4.75" stroke-dasharray="15.05 13.5" stroke-dashoffset="0"/>
<path d="M610.88 689.61L612.72 689.59L614.6 689.54L616.5 689.46L618.44 689.34L620.4 689.19L622.39 689.01L624.4 688.79L626.44 688.54L628.5 688.25L630.58 687.93L632.69 687.58L634.81 687.2L636.94 686.79L639.1 686.34L641.26 685.87L643.44 685.36L645.63 684.82L647.83 684.25L650.04 683.65L652.25 683.02L654.47 682.36L656.7 681.67L658.92 680.96L661.15 680.21L663.37 679.44L665.59 678.64L667.81 677.82L670.02 676.97L672.22 676.1L674.42 675.2L676.61 674.27L678.78 673.33L680.94 672.36L683.09 671.37L685.21 670.36L687.33 669.33L689.42 668.27L691.49 667.2L693.54 666.11L695.57 665.01L697.57 663.88L699.55 662.74L701.5 661.59L703.42 660.42L705.31 659.23L707.17 658.04L708.99 656.83L710.78 655.61L712.54 654.38L714.26 653.14L715.94 651.89L717.59 650.63L719.19 649.37L720.76 648.1L722.28 646.82L723.76 645.54L725.19 644.26L726.58 642.98L727.92 641.69L729.22 640.4L730.47 639.11L731.67 637.82L732.82 636.54L733.92 635.26L734.97 633.98L735.97 632.7L736.91 631.43L737.8 630.17L738.64 628.91L739.43 627.66L740.16 626.42L740.83 625.19L741.45 623.97L742.01 622.76L742.52 621.57L742.97 620.38L743.36 619.21L743.69 618.06L743.97 616.92L744.19 615.79L744.35 614.69L744.45 613.6L744.49 612.53L744.48 611.47L744.41 610.44L744.28 609.43L744.09 608.44L743.84 607.47L743.54 606.53L743.18 605.6L742.76 604.7L742.28 603.83L741.75 602.98L741.16 602.16L740.51 601.36L739.81 600.59L739.06 599.84L738.25 599.13L737.38 598.44L736.46 597.78L735.49 597.15L734.47 596.55L733.4 595.98L732.27 595.44L731.1 594.93L729.87 594.46L728.6 594.01L727.28 593.6L725.92 593.22L724.51 592.87L723.05 592.55L721.55 592.26L720.01 592.01L718.43 591.79L716.8 591.61L715.14 591.46L713.44 591.34L711.7 591.26L709.93 591.21L708.12 591.19L706.28 591.21L704.4 591.26L702.5 591.34L700.56 591.46L698.6 591.61L696.61 591.79L694.6 592.01L692.56 592.26L690.5 592.55L688.42 592.87L686.31 593.22L684.19 593.6L682.06 594.01L679.9 594.46L677.74 594.93L675.56 595.44L673.37 595.98L671.17 596.55L668.96 597.15L666.75 597.78L664.53 598.44L662.3 599.13L660.08 599.84L657.85 600.59L655.63 601.36L653.41 602.16L651.19 602.98L648.98 603.83L646.78 604.7L644.58 605.6L642.39 606.53L640.22 607.47L638.06 608.44L635.91 609.43L633.79 610.44L631.67 611.47L629.58 612.53L627.51 613.6L625.46 614.69L623.43 615.79L621.43 616.92L619.45 618.06L617.5 619.21L615.58 620.38L613.69 621.57L611.83 622.76L610.01 623.97L608.22 625.19L606.46 626.42L604.74 627.66L603.06 628.91L601.41 630.17L599.81 631.43L598.24 632.7L596.72 633.98L595.24 635.26L593.81 636.54L592.42 637.82L591.08 639.11L589.78 640.4L588.53 641.69L587.33 642.98L586.18 644.26L585.08 645.54L584.03 646.82L583.03 648.1L582.09 649.37L581.2 650.63L580.36 651.89L579.57 653.14L578.84 654.38L578.17 655.61L577.55 656.83L576.99 658.04L576.48 659.23L576.03 660.42L575.64 661.59L575.31 662.74L575.03 663.88L574.81 665.01L574.65 666.11L574.55 667.2L574.51 668.27L574.52 669.33L574.59 670.36L574.72 671.37L574.91 672.36L575.16 673.33L575.46 674.27L575.82 675.2L576.24 676.1L576.72 676.97L577.25 677.82L577.84 678.64L578.49 679.44L579.19 680.21L579.94 680.96L580.75 681.67L581.62 682.36L582.54 683.02L583.51 683.65L584.53 684.25L585.6 684.82L586.73 685.36L587.9 685.87L589.13 686.34L590.4 686.79L591.72 687.2L593.08 687.58L594.49 687.93L595.95 688.25L597.45 688.54L598.99 688.79L600.57 689.01L602.2 689.19L603.86 689.34L605.56 689.46L607.3 689.54L609.07 689.59Z" stroke="#FF0000" stroke-width="4.75" stroke-dasharray="15 13.45" stroke-dashoffset="1.96"/>
<path d="M127 636.5H1191" stroke="#666666" stroke-width="5.0" stroke-dasharray="15.2 13.25"/>
<path d="M663.5 1094V214" stroke="#666666" stroke-width="5.0" stroke-dasharray="15.2 13.25"/>
</g>
<text transform="translate(111.3 1037.3) scale(1 1.06)" font-size="30.0" fill="#4D4D4D" text-anchor="end" font-family='"Liberation Sans", Arial, sans-serif'>−2</text>
<text transform="translate(262.7 1131.9) scale(1 1.06)" font-size="30.0" fill="#4D4D4D" text-anchor="middle" font-family='"Liberation Sans", Arial, sans-serif'>−2</text>
<text transform="translate(111.3 842.3) scale(1 1.06)" font-size="30.0" fill="#4D4D4D" text-anchor="end" font-family='"Liberation Sans", Arial, sans-serif'>−1</text>
<text transform="translate(462.95 1131.9) scale(1 1.06)" font-size="30.0" fill="#4D4D4D" text-anchor="middle" font-family='"Liberation Sans", Arial, sans-serif'>−1</text>
<text transform="translate(111.3 647.3) scale(1 1.06)" font-size="30.0" fill="#4D4D4D" text-anchor="end" font-family='"Liberation Sans", Arial, sans-serif'>0</text>
<text transform="translate(663.2 1131.9) scale(1 1.06)" font-size="30.0" fill="#4D4D4D" text-anchor="middle" font-family='"Liberation Sans", Arial, sans-serif'>0</text>
<text transform="translate(111.3 452.3) scale(1 1.06)" font-size="30.0" fill="#4D4D4D" text-anchor="end" font-family='"Liberation Sans", Arial, sans-serif'>1</text>
<text transform="translate(863.45 1131.9) scale(1 1.06)" font-size="30.0" fill="#4D4D4D" text-anchor="middle" font-family='"Liberation Sans", Arial, sans-serif'>1</text>
<text transform="translate(111.3 257.3) scale(1 1.06)" font-size="30.0" fill="#4D4D4D" text-anchor="end" font-family='"Liberation Sans", Arial, sans-serif'>2</text>
<text transform="translate(1063.7 1131.9) scale(1 1.06)" font-size="30.0" fill="#4D4D4D" text-anchor="middle" font-family='"Liberation Sans", Arial, sans-serif'>2</text>
<text x="638.3" y="1173.8" font-size="39.2" font-family='"Liberation Sans", Arial, sans-serif' fill="#000">X<tspan x="664.6" font-size="27.5" dy="6">1</tspan></text>
<text transform="translate(53.2 675.2) rotate(-90)" font-size="39.2" font-family='"Liberation Sans", Arial, sans-serif' fill="#000">X<tspan x="25.6" font-size="27.5" dy="6.5">2</tspan></text>
<text x="127.8" y="56.3" font-size="43.45" fill="#000" text-anchor="start" font-family='"Liberation Sans", Arial, sans-serif'>Empirical vs parametric density</text>
<path d="M387 130.3H434.2" stroke="#0000FF" stroke-width="5.6"/>
<text x="457.8" y="141.2" font-size="30" fill="#000" text-anchor="start" font-family='"Liberation Sans", Arial, sans-serif'>Empirical density</text>
<path d="M707.8 130.3H755" stroke="#FF0000" stroke-width="5.4" stroke-dasharray="16 13.2"/>
<text x="779" y="141.2" font-size="30" fill="#000" text-anchor="start" font-family='"Liberation Sans", Arial, sans-serif'>Parametric fit</text>
<path d="M1317 951.31H2391M1317 756.94H2391M1317 562.56H2391M1317 368.19H2391M1526.4 232V1087.8M1852.6 232V1087.8M2178.8 232V1087.8" stroke="#EBEBEB" stroke-width="2.1" fill="none"/>
<path d="M1317 1048.5H2391M1317 854.12H2391M1317 659.75H2391M1317 465.38H2391M1317 271H2391M1363.3 232V1087.8M1689.5 232V1087.8M2015.7 232V1087.8M2341.9 232V1087.8" stroke="#EBEBEB" stroke-width="4.5" fill="none"/>
<g clip-path="url(#cr)" fill="none">
<path d="M1366.56 857.99L1368.17 859.88L1369.77 861.76L1371.37 863.63L1372.98 865.48L1374.58 867.33L1376.18 869.17L1377.79 871L1379.39 872.83L1380.99 874.64L1382.6 876.44L1384.2 878.23L1385.8 880.02L1387.41 881.79L1389.01 883.56L1390.61 885.31L1392.22 887.06L1393.82 888.79L1395.42 890.52L1397.03 892.24L1398.63 893.95L1400.23 895.65L1401.84 897.34L1403.44 899.02L1405.04 900.69L1406.65 902.35L1408.25 904L1409.85 905.65L1411.46 907.28L1413.06 908.9L1414.66 910.52L1416.27 912.12L1417.87 913.72L1419.47 915.31L1421.08 916.88L1422.68 918.45L1424.28 920.01L1425.89 921.56L1427.49 923.1L1429.09 924.63L1430.7 926.15L1432.3 927.66L1433.9 929.16L1435.51 930.65L1437.11 932.14L1438.71 933.61L1440.32 935.07L1441.92 936.53L1443.52 937.97L1445.13 939.41L1446.73 940.84L1448.33 942.26L1449.94 943.66L1451.54 945.06L1453.14 946.45L1454.75 947.83L1456.35 949.2L1457.95 950.56L1459.56 951.91L1461.16 953.26L1465.59 956.91L1470.01 960.5L1474.44 964.01L1478.86 967.45L1483.29 970.82L1487.71 974.12L1492.14 977.35L1496.57 980.5L1500.99 983.59L1505.42 986.6L1509.84 989.54L1514.27 992.41L1518.7 995.21L1523.12 997.93L1527.55 1000.59L1531.97 1003.17L1536.4 1005.68L1540.82 1008.12L1545.25 1010.49L1549.68 1012.79L1554.1 1015.01L1558.53 1017.17L1562.95 1019.25L1567.38 1021.26L1571.81 1023.2L1576.23 1025.06L1580.66 1026.86L1585.08 1028.58L1589.51 1030.24L1593.93 1031.82L1598.36 1033.33L1602.79 1034.76L1607.21 1036.13L1611.64 1037.43L1616.06 1038.65L1620.49 1039.8L1624.92 1040.88L1629.34 1041.89L1633.77 1042.83L1638.19 1043.69L1642.62 1044.49L1647.04 1045.21L1651.47 1045.86L1655.9 1046.44L1660.32 1046.94L1664.75 1047.38L1669.17 1047.75L1673.6 1048.04L1678.03 1048.26L1682.45 1048.41L1686.88 1048.49L1691.3 1048.49L1695.73 1048.43L1700.15 1048.29L1704.58 1048.08L1709.01 1047.8L1713.43 1047.45L1717.86 1047.03L1722.28 1046.54L1726.71 1045.97L1731.14 1045.33L1735.56 1044.62L1739.99 1043.84L1744.41 1042.99L1748.84 1042.07L1753.26 1041.07L1757.69 1040.01L1762.12 1038.87L1766.54 1037.66L1770.97 1036.38L1775.39 1035.02L1779.82 1033.6L1784.25 1032.1L1788.67 1030.53L1793.1 1028.89L1797.52 1027.18L1801.95 1025.4L1806.37 1023.55L1810.8 1021.62L1815.23 1019.62L1819.65 1017.56L1824.08 1015.42L1828.5 1013.2L1832.93 1010.92L1837.36 1008.57L1841.78 1006.14L1846.21 1003.64L1850.63 1001.07L1855.06 998.43L1859.48 995.72L1863.91 992.93L1868.34 990.08L1872.76 987.15L1877.19 984.15L1881.61 981.08L1886.04 977.94L1890.47 974.72L1894.89 971.44L1899.32 968.08L1903.74 964.65L1908.17 961.15L1912.59 957.58L1917.02 953.94L1921.45 950.22L1925.87 946.44L1930.3 942.58L1934.72 938.65L1939.15 934.65L1943.58 930.58L1948 926.43L1952.43 922.22L1956.85 917.93L1961.28 913.57L1965.7 909.14L1970.13 904.64L1974.56 900.07L1978.98 895.42L1983.41 890.7L1987.83 885.92L1992.26 881.06L1996.69 876.13L2001.11 871.12L2005.54 866.05L2009.96 860.9L2014.39 855.68L2018.81 850.4L2023.24 845.03L2027.67 839.6L2032.09 834.1L2036.52 828.52L2040.94 822.88L2045.37 817.16L2049.8 811.37L2054.22 805.51L2058.65 799.57L2063.07 793.57L2067.5 787.49L2071.92 781.34L2076.35 775.13L2080.78 768.83L2085.2 762.47L2089.63 756.04L2094.05 749.53L2098.48 742.95L2102.91 736.31L2107.33 729.59L2111.76 722.79L2116.18 715.93L2120.61 709L2125.03 701.99L2129.46 694.91L2133.89 687.76L2138.31 680.54L2142.74 673.25L2147.16 665.88L2151.59 658.45L2156.02 650.94L2160.44 643.36L2164.87 635.71L2169.29 627.99L2173.72 620.19L2178.14 612.33L2182.57 604.39L2187 596.38L2191.42 588.3L2195.85 580.15L2200.27 571.93L2204.7 563.63L2209.13 555.27L2213.55 546.83L2217.98 538.32L2222.4 529.74L2226.83 521.09L2231.25 512.36L2235.68 503.57L2240.11 494.7L2244.53 485.76L2248.96 476.75L2253.38 467.67L2257.81 458.51L2262.24 449.29L2266.66 439.99L2271.09 430.62L2275.51 421.18L2279.94 411.67L2284.36 402.09L2288.79 392.44L2293.22 382.71L2297.64 372.91L2302.07 363.04L2306.49 353.1L2310.92 343.09L2315.35 333.01L2319.77 322.85L2324.2 312.62L2328.62 302.32L2333.05 291.95L2337.47 281.51L2341.9 271" stroke="#F8766D" stroke-width="9.0" stroke-linejoin="round"/>
<path d="M1366.56 891.06L1368.17 898.7L1369.77 905.01L1371.37 910.47L1372.98 915.31L1374.58 919.69L1376.18 923.7L1377.79 927.41L1379.39 930.87L1380.99 934.12L1382.6 937.18L1384.2 940.07L1385.8 942.82L1387.41 945.44L1389.01 947.94L1390.61 950.34L1392.22 952.64L1393.82 954.85L1395.42 956.98L1397.03 959.03L1398.63 961.01L1400.23 962.93L1401.84 964.78L1403.44 966.58L1405.04 968.32L1406.65 970.01L1408.25 971.65L1409.85 973.24L1411.46 974.8L1413.06 976.31L1414.66 977.78L1416.27 979.21L1417.87 980.61L1419.47 981.97L1421.08 983.3L1422.68 984.6L1424.28 985.87L1425.89 987.11L1427.49 988.32L1429.09 989.51L1430.7 990.67L1432.3 991.8L1433.9 992.91L1435.51 994L1437.11 995.06L1438.71 996.11L1440.32 997.13L1441.92 998.13L1443.52 999.11L1445.13 1000.07L1446.73 1001.01L1448.33 1001.94L1449.94 1002.85L1451.54 1003.74L1453.14 1004.61L1454.75 1005.47L1456.35 1006.31L1457.95 1007.13L1459.56 1007.94L1461.16 1008.74L1465.59 1010.86L1470.01 1012.89L1474.44 1014.81L1478.86 1016.65L1483.29 1018.4L1487.71 1020.07L1492.14 1021.67L1496.57 1023.19L1500.99 1024.65L1505.42 1026.04L1509.84 1027.37L1514.27 1028.63L1518.7 1029.85L1523.12 1031L1527.55 1032.11L1531.97 1033.16L1536.4 1034.17L1540.82 1035.13L1545.25 1036.04L1549.68 1036.92L1554.1 1037.75L1558.53 1038.54L1562.95 1039.29L1567.38 1040.01L1571.81 1040.69L1576.23 1041.33L1580.66 1041.94L1585.08 1042.52L1589.51 1043.06L1593.93 1043.58L1598.36 1044.06L1602.79 1044.52L1607.21 1044.94L1611.64 1045.34L1616.06 1045.71L1620.49 1046.06L1624.92 1046.38L1629.34 1046.67L1633.77 1046.95L1638.19 1047.19L1642.62 1047.42L1647.04 1047.62L1651.47 1047.8L1655.9 1047.96L1660.32 1048.09L1664.75 1048.21L1669.17 1048.31L1673.6 1048.38L1678.03 1048.44L1682.45 1048.48L1686.88 1048.5L1691.3 1048.5L1695.73 1048.48L1700.15 1048.45L1704.58 1048.4L1709.01 1048.33L1713.43 1048.25L1717.86 1048.15L1722.28 1048.03L1726.71 1047.9L1731.14 1047.76L1735.56 1047.59L1739.99 1047.42L1744.41 1047.23L1748.84 1047.02L1753.26 1046.81L1757.69 1046.57L1762.12 1046.33L1766.54 1046.07L1770.97 1045.8L1775.39 1045.51L1779.82 1045.22L1784.25 1044.91L1788.67 1044.58L1793.1 1044.25L1797.52 1043.9L1801.95 1043.55L1806.37 1043.18L1810.8 1042.8L1815.23 1042.41L1819.65 1042.01L1824.08 1041.59L1828.5 1041.17L1832.93 1040.73L1837.36 1040.29L1841.78 1039.84L1846.21 1039.37L1850.63 1038.9L1855.06 1038.41L1859.48 1037.92L1863.91 1037.41L1868.34 1036.9L1872.76 1036.38L1877.19 1035.85L1881.61 1035.31L1886.04 1034.76L1890.47 1034.2L1894.89 1033.63L1899.32 1033.06L1903.74 1032.47L1908.17 1031.88L1912.59 1031.28L1917.02 1030.67L1921.45 1030.05L1925.87 1029.43L1930.3 1028.79L1934.72 1028.15L1939.15 1027.5L1943.58 1026.85L1948 1026.18L1952.43 1025.51L1956.85 1024.84L1961.28 1024.15L1965.7 1023.46L1970.13 1022.76L1974.56 1022.05L1978.98 1021.33L1983.41 1020.61L1987.83 1019.89L1992.26 1019.15L1996.69 1018.41L2001.11 1017.66L2005.54 1016.91L2009.96 1016.15L2014.39 1015.38L2018.81 1014.61L2023.24 1013.83L2027.67 1013.04L2032.09 1012.25L2036.52 1011.45L2040.94 1010.64L2045.37 1009.83L2049.8 1009.02L2054.22 1008.19L2058.65 1007.37L2063.07 1006.53L2067.5 1005.69L2071.92 1004.85L2076.35 1004L2080.78 1003.14L2085.2 1002.28L2089.63 1001.41L2094.05 1000.54L2098.48 999.66L2102.91 998.78L2107.33 997.89L2111.76 997L2116.18 996.1L2120.61 995.19L2125.03 994.29L2129.46 993.37L2133.89 992.45L2138.31 991.53L2142.74 990.6L2147.16 989.67L2151.59 988.73L2156.02 987.78L2160.44 986.84L2164.87 985.88L2169.29 984.93L2173.72 983.97L2178.14 983L2182.57 982.03L2187 981.05L2191.42 980.07L2195.85 979.09L2200.27 978.1L2204.7 977.11L2209.13 976.11L2213.55 975.11L2217.98 974.1L2222.4 973.09L2226.83 972.08L2231.25 971.06L2235.68 970.04L2240.11 969.01L2244.53 967.98L2248.96 966.94L2253.38 965.91L2257.81 964.86L2262.24 963.82L2266.66 962.77L2271.09 961.71L2275.51 960.65L2279.94 959.59L2284.36 958.53L2288.79 957.46L2293.22 956.38L2297.64 955.3L2302.07 954.22L2306.49 953.14L2310.92 952.05L2315.35 950.96L2319.77 949.86L2324.2 948.77L2328.62 947.66L2333.05 946.56L2337.47 945.45L2341.9 944.33" stroke="#00BA38" stroke-width="9.0" stroke-linejoin="round"/>
<path d="M1366.56 865.02L1368.17 869.22L1369.77 873.09L1371.37 876.73L1372.98 880.17L1374.58 883.46L1376.18 886.61L1377.79 889.64L1379.39 892.56L1380.99 895.39L1382.6 898.13L1384.2 900.8L1385.8 903.39L1387.41 905.91L1389.01 908.37L1390.61 910.76L1392.22 913.11L1393.82 915.4L1395.42 917.63L1397.03 919.83L1398.63 921.97L1400.23 924.07L1401.84 926.13L1403.44 928.16L1405.04 930.14L1406.65 932.08L1408.25 933.99L1409.85 935.87L1411.46 937.72L1413.06 939.53L1414.66 941.31L1416.27 943.06L1417.87 944.78L1419.47 946.48L1421.08 948.14L1422.68 949.78L1424.28 951.4L1425.89 952.99L1427.49 954.55L1429.09 956.1L1430.7 957.61L1432.3 959.11L1433.9 960.58L1435.51 962.03L1437.11 963.46L1438.71 964.87L1440.32 966.26L1441.92 967.63L1443.52 968.98L1445.13 970.31L1446.73 971.62L1448.33 972.92L1449.94 974.19L1451.54 975.45L1453.14 976.69L1454.75 977.91L1456.35 979.12L1457.95 980.31L1459.56 981.49L1461.16 982.64L1465.59 985.76L1470.01 988.76L1474.44 991.66L1478.86 994.44L1483.29 997.13L1487.71 999.72L1492.14 1002.22L1496.57 1004.62L1500.99 1006.94L1505.42 1009.17L1509.84 1011.32L1514.27 1013.39L1518.7 1015.39L1523.12 1017.3L1527.55 1019.15L1531.97 1020.92L1536.4 1022.63L1540.82 1024.27L1545.25 1025.84L1549.68 1027.35L1554.1 1028.79L1558.53 1030.17L1562.95 1031.5L1567.38 1032.76L1571.81 1033.97L1576.23 1035.13L1580.66 1036.22L1585.08 1037.27L1589.51 1038.26L1593.93 1039.2L1598.36 1040.09L1602.79 1040.93L1607.21 1041.72L1611.64 1042.46L1616.06 1043.16L1620.49 1043.81L1624.92 1044.41L1629.34 1044.97L1633.77 1045.49L1638.19 1045.96L1642.62 1046.39L1647.04 1046.78L1651.47 1047.12L1655.9 1047.43L1660.32 1047.7L1664.75 1047.93L1669.17 1048.11L1673.6 1048.27L1678.03 1048.38L1682.45 1048.45L1686.88 1048.49L1691.3 1048.5L1695.73 1048.46L1700.15 1048.4L1704.58 1048.3L1709.01 1048.16L1713.43 1047.99L1717.86 1047.79L1722.28 1047.55L1726.71 1047.28L1731.14 1046.98L1735.56 1046.65L1739.99 1046.28L1744.41 1045.89L1748.84 1045.46L1753.26 1045.01L1757.69 1044.52L1762.12 1044.01L1766.54 1043.46L1770.97 1042.89L1775.39 1042.29L1779.82 1041.65L1784.25 1041L1788.67 1040.31L1793.1 1039.6L1797.52 1038.86L1801.95 1038.09L1806.37 1037.29L1810.8 1036.47L1815.23 1035.63L1819.65 1034.75L1824.08 1033.85L1828.5 1032.93L1832.93 1031.98L1837.36 1031.01L1841.78 1030.01L1846.21 1028.99L1850.63 1027.94L1855.06 1026.87L1859.48 1025.78L1863.91 1024.66L1868.34 1023.52L1872.76 1022.35L1877.19 1021.17L1881.61 1019.96L1886.04 1018.72L1890.47 1017.47L1894.89 1016.19L1899.32 1014.89L1903.74 1013.57L1908.17 1012.23L1912.59 1010.87L1917.02 1009.48L1921.45 1008.08L1925.87 1006.65L1930.3 1005.2L1934.72 1003.73L1939.15 1002.24L1943.58 1000.74L1948 999.21L1952.43 997.66L1956.85 996.09L1961.28 994.5L1965.7 992.89L1970.13 991.26L1974.56 989.62L1978.98 987.95L1983.41 986.27L1987.83 984.56L1992.26 982.84L1996.69 981.1L2001.11 979.34L2005.54 977.56L2009.96 975.77L2014.39 973.95L2018.81 972.12L2023.24 970.27L2027.67 968.41L2032.09 966.52L2036.52 964.62L2040.94 962.7L2045.37 960.76L2049.8 958.81L2054.22 956.84L2058.65 954.85L2063.07 952.85L2067.5 950.83L2071.92 948.79L2076.35 946.73L2080.78 944.66L2085.2 942.58L2089.63 940.47L2094.05 938.35L2098.48 936.22L2102.91 934.07L2107.33 931.9L2111.76 929.72L2116.18 927.52L2120.61 925.31L2125.03 923.08L2129.46 920.83L2133.89 918.57L2138.31 916.3L2142.74 914.01L2147.16 911.71L2151.59 909.39L2156.02 907.05L2160.44 904.7L2164.87 902.34L2169.29 899.96L2173.72 897.57L2178.14 895.16L2182.57 892.74L2187 890.3L2191.42 887.85L2195.85 885.39L2200.27 882.91L2204.7 880.42L2209.13 877.91L2213.55 875.39L2217.98 872.86L2222.4 870.31L2226.83 867.75L2231.25 865.18L2235.68 862.59L2240.11 859.99L2244.53 857.38L2248.96 854.75L2253.38 852.11L2257.81 849.45L2262.24 846.79L2266.66 844.11L2271.09 841.41L2275.51 838.71L2279.94 835.99L2284.36 833.26L2288.79 830.51L2293.22 827.76L2297.64 824.99L2302.07 822.21L2306.49 819.41L2310.92 816.61L2315.35 813.79L2319.77 810.96L2324.2 808.11L2328.62 805.26L2333.05 802.39L2337.47 799.51L2341.9 796.62" stroke="#619CFF" stroke-width="9.0" stroke-linejoin="round"/>
<path d="M1317 1048.5H2391" stroke="#666666" stroke-width="5.0" stroke-dasharray="15.2 13.25"/>
<path d="M1689.5 1087.8V232" stroke="#666666" stroke-width="5.0" stroke-dasharray="15.2 13.25"/>
</g>
<text transform="translate(1301.6 1059.4) scale(1 1.06)" font-size="30.0" fill="#4D4D4D" text-anchor="end" font-family='"Liberation Sans", Arial, sans-serif'>0</text>
<text transform="translate(1301.6 865.02) scale(1 1.06)" font-size="30.0" fill="#4D4D4D" text-anchor="end" font-family='"Liberation Sans", Arial, sans-serif'>1</text>
<text transform="translate(1301.6 670.65) scale(1 1.06)" font-size="30.0" fill="#4D4D4D" text-anchor="end" font-family='"Liberation Sans", Arial, sans-serif'>2</text>
<text transform="translate(1301.6 476.27) scale(1 1.06)" font-size="30.0" fill="#4D4D4D" text-anchor="end" font-family='"Liberation Sans", Arial, sans-serif'>3</text>
<text transform="translate(1301.6 281.9) scale(1 1.06)" font-size="30.0" fill="#4D4D4D" text-anchor="end" font-family='"Liberation Sans", Arial, sans-serif'>4</text>
<text transform="translate(1363 1125.9) scale(1 1.06)" font-size="30.0" fill="#4D4D4D" text-anchor="middle" font-family='"Liberation Sans", Arial, sans-serif'>0</text>
<text transform="translate(1689.2 1125.9) scale(1 1.06)" font-size="30.0" fill="#4D4D4D" text-anchor="middle" font-family='"Liberation Sans", Arial, sans-serif'>1</text>
<text transform="translate(2015.4 1125.9) scale(1 1.06)" font-size="30.0" fill="#4D4D4D" text-anchor="middle" font-family='"Liberation Sans", Arial, sans-serif'>2</text>
<text transform="translate(2341.6 1125.9) scale(1 1.06)" font-size="30.0" fill="#4D4D4D" text-anchor="middle" font-family='"Liberation Sans", Arial, sans-serif'>3</text>
<text y="63.6" font-size="43.45" font-family='"Liberation Sans", Arial, sans-serif' fill="#000"><tspan x="1316">Divergence functions</tspan><tspan x="1744.5">f</tspan><tspan x="1756.5" y="62.4" font-size="54.0" font-family='"Liberation Serif", "Times New Roman", serif'>(</tspan><tspan x="1775.3" y="63.6">u</tspan><tspan x="1799.2" y="62.4" font-size="54.0" font-family='"Liberation Serif", "Times New Roman", serif'>)</tspan></text>
<path d="M1491 148.4H1538.2" stroke="#F8766D" stroke-width="9"/>
<text x="1560.7" y="158.7" font-size="30" fill="#000" text-anchor="start" font-family='"Liberation Sans", Arial, sans-serif'>Chi−square</text>
<path d="M1739.3 148.4H1786.5" stroke="#00BA38" stroke-width="9"/>
<text x="1810.3" y="158.7" font-size="30" fill="#000" text-anchor="start" font-family='"Liberation Sans", Arial, sans-serif'>Hellinger</text>
<path d="M1952 148.4H1999.2" stroke="#619CFF" stroke-width="9"/>
<text x="2022.4" y="158.7" font-size="30" fill="#000" text-anchor="start" font-family='"Liberation Sans", Arial, sans-serif'>Kullback−Leibler</text>
<text y="1171.9" font-size="37.5" font-family='"Liberation Sans", Arial, sans-serif' fill="#000"><tspan x="1681.8" letter-spacing="-0.38">Density ratio</tspan><tspan x="1905.1">u</tspan><tspan x="1932.8" y="1176.3" font-size="41.5" font-family='"Liberation Serif", "Times New Roman", serif'>=</tspan><tspan x="1963.3" y="1171.9">g</tspan><tspan x="1985.6" y="1178.4" font-size="51">/</tspan><tspan x="2001.3" y="1171.9">f</tspan><tspan x="2012.6" y="1178.9" font-size="26.25" font-family='"Liberation Serif", "Times New Roman", serif'>θ</tspan></text>
<text transform="translate(1259 691.5) rotate(-90)" font-size="37.5" font-family='"Liberation Sans", Arial, sans-serif' fill="#000"><tspan x="0" y="0">f</tspan><tspan x="10.3" y="-0.7" font-size="44.5" font-family='"Liberation Serif", "Times New Roman", serif'>(</tspan><tspan x="29.5" y="0">u</tspan><tspan x="47.6" y="-0.7" font-size="44.5" font-family='"Liberation Serif", "Times New Roman", serif'>)</tspan></text>
</svg>
</body>
</html>
